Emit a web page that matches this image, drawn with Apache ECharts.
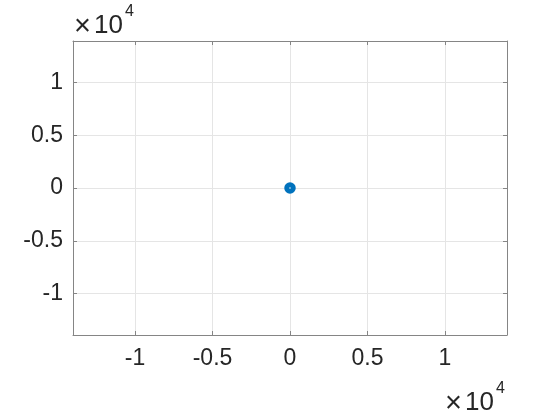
<!DOCTYPE html>
<html>
<head>
<meta charset="utf-8">
<script src="https://cdn.jsdelivr.net/npm/echarts@6/dist/echarts.min.js"></script>
<style>
  html, body { margin: 0; padding: 0; background: #fff; }
  #chart { width: 560px; height: 420px; }
</style>
</head>
<body>
<div id="chart"></div>
<script>
// data
const xValues = [0]
const yValues = [0]
const xLimits = [-14000, 14000]
const yLimits = [-13930, 13930]
const timesSign = '×'
const exponentBase = '10'
const exponentPower = '4'

const textColor = '#262626'
const axisColor = '#858585'
const gridColor = '#e5e5e5'
const font = "'Liberation Sans', Arial, sans-serif"

const chart = echarts.init(document.getElementById('chart'))

function fmt(v) {
  return String(v / 10000)
}

const baseAxis = {
  type: 'value',
  splitNumber: 5,
  axisLine: { show: true, onZero: false, lineStyle: { color: axisColor, width: 1 } },
  axisTick: { show: true, inside: true, length: 4, lineStyle: { color: axisColor } },
  splitLine: { show: true, lineStyle: { color: gridColor, width: 1 } },
  axisLabel: {
    color: textColor,
    fontFamily: font,
    fontSize: 23,
    showMinLabel: false,
    showMaxLabel: false,
    formatter: fmt
  }
}

// exponent label: "×10^4"
function expLabel(x, y) {
  return [
    { type: 'text', left: x - 1, top: y - 1, style: { text: timesSign, font: '29px ' + font, fill: textColor } },
    { type: 'text', left: x + 19, top: y, style: { text: exponentBase, font: '26px ' + font, fill: textColor } },
    { type: 'text', left: x + 50, top: y - 9, style: { text: exponentPower, font: '16px ' + font, fill: textColor } }
  ]
}

const option = {
  animation: false,
  backgroundColor: '#fff',
  grid: { left: 73, right: 53, top: 41, bottom: 85, containLabel: false },
  xAxis: [
    Object.assign({}, baseAxis, {
      position: 'bottom',
      min: xLimits[0],
      max: xLimits[1],
      axisLabel: Object.assign({}, baseAxis.axisLabel, { margin: 12 })
    }),
    Object.assign({}, baseAxis, {
      position: 'top',
      min: xLimits[0],
      max: xLimits[1],
      splitLine: { show: false },
      axisLabel: { show: false }
    })
  ],
  yAxis: [
    Object.assign({}, baseAxis, {
      position: 'left',
      min: yLimits[0],
      max: yLimits[1],
      axisLabel: Object.assign({}, baseAxis.axisLabel, { margin: 10 })
    }),
    Object.assign({}, baseAxis, {
      position: 'right',
      min: yLimits[0],
      max: yLimits[1],
      splitLine: { show: false },
      axisLabel: { show: false }
    })
  ],
  graphic: expLabel(75, 13).concat(expLabel(446, 390)),
  series: [
    {
      type: 'scatter',
      data: xValues.map((x, i) => [x, yValues[i]]),
      symbol: 'circle',
      symbolSize: 6.5,
      itemStyle: { color: '#ffffff', borderColor: '#0072BD', borderWidth: 5, opacity: 1 }
    }
  ]
}

chart.setOption(option)
</script>
</body>
</html>
